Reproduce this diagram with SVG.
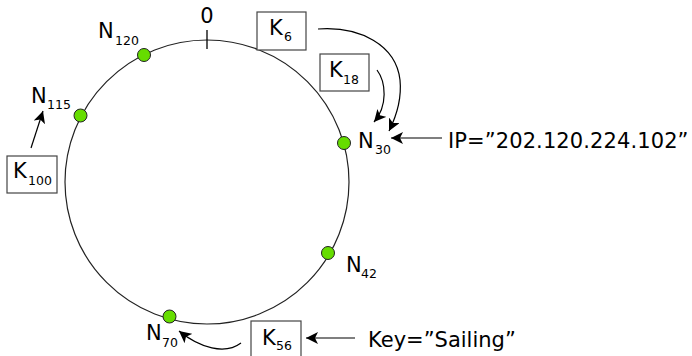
<svg xmlns="http://www.w3.org/2000/svg" width="692" height="356" viewBox="0 0 692 356">
<style>
text{font-family:"DejaVu Sans",Verdana,sans-serif;font-size:21px;fill:#000}
.sub{font-size:12.5px}
.box{fill:#fff;stroke:#444;stroke-width:1.2}
.node{fill:#66dd00;stroke:#222;stroke-width:1}
.conn{fill:none;stroke:#000;stroke-width:1.2}
</style>
<defs>
<marker id="arr" markerUnits="userSpaceOnUse" markerWidth="14" markerHeight="12" refX="12" refY="6" orient="auto">
<path d="M0,0 L12,6 L0,12 L3,6 z" fill="#000"/>
</marker>
</defs>
<rect width="692" height="356" fill="#fff"/>
<g id="ring">
<circle cx="207" cy="182" r="142" fill="none" stroke="#222" stroke-width="1.2"/>
<line x1="207" y1="30" x2="207" y2="49" stroke="#000" stroke-width="1.3"/>
<text x="207" y="23" text-anchor="middle">0</text>
</g>
<g id="connectors">
<path class="conn" d="M31,148 L43,111" marker-end="url(#arr)"/>
<path class="conn" d="M318,29 C360,26 396,45 400,80 C402,100 396,117 389,131" marker-end="url(#arr)"/>
<path class="conn" d="M377,70 C386,82 388,106 374,122" marker-end="url(#arr)"/>
<path class="conn" d="M442,138 L391,138" marker-end="url(#arr)"/>
<path class="conn" d="M355,338 L306,338" marker-end="url(#arr)"/>
<path class="conn" d="M241,343 C225,355 200,348 179,331" marker-end="url(#arr)"/>
</g>
<g id="N120"><circle class="node" cx="144" cy="55" r="6.5"/><text x="98" y="38">N</text><text class="sub" x="115" y="45">120</text></g>
<g id="N115"><circle class="node" cx="80.5" cy="115.5" r="6.5"/><text x="31" y="103">N</text><text class="sub" x="47" y="109">115</text></g>
<g id="N30"><circle class="node" cx="344" cy="143" r="6.5"/><text x="358" y="148">N</text><text class="sub" x="375" y="154">30</text></g>
<g id="N42"><circle class="node" cx="328" cy="253" r="6.5"/><text x="346" y="272">N</text><text class="sub" x="361" y="278">42</text></g>
<g id="N70"><circle class="node" cx="169.5" cy="316.5" r="6.5"/><text x="146" y="340">N</text><text class="sub" x="162" y="347">70</text></g>
<g id="K6"><rect class="box" x="257" y="12" width="49" height="38"/><text x="269" y="35">K</text><text class="sub" x="284" y="41">6</text></g>
<g id="K18"><rect class="box" x="320" y="54" width="49" height="37"/><text x="329" y="77">K</text><text class="sub" x="343" y="84">18</text></g>
<g id="K100"><rect class="box" x="7" y="156" width="50" height="37"/><text x="13" y="178">K</text><text class="sub" x="28" y="185">100</text></g>
<g id="K56"><rect class="box" x="251" y="321" width="50" height="40"/><text x="262" y="345">K</text><text class="sub" x="276" y="350">56</text></g>
<g id="IP"><text x="448" y="148" letter-spacing="0.1">IP=”202.120.224.102”</text></g>
<g id="Key"><text x="368" y="347">Key=”Sailing”</text></g>
</svg>
